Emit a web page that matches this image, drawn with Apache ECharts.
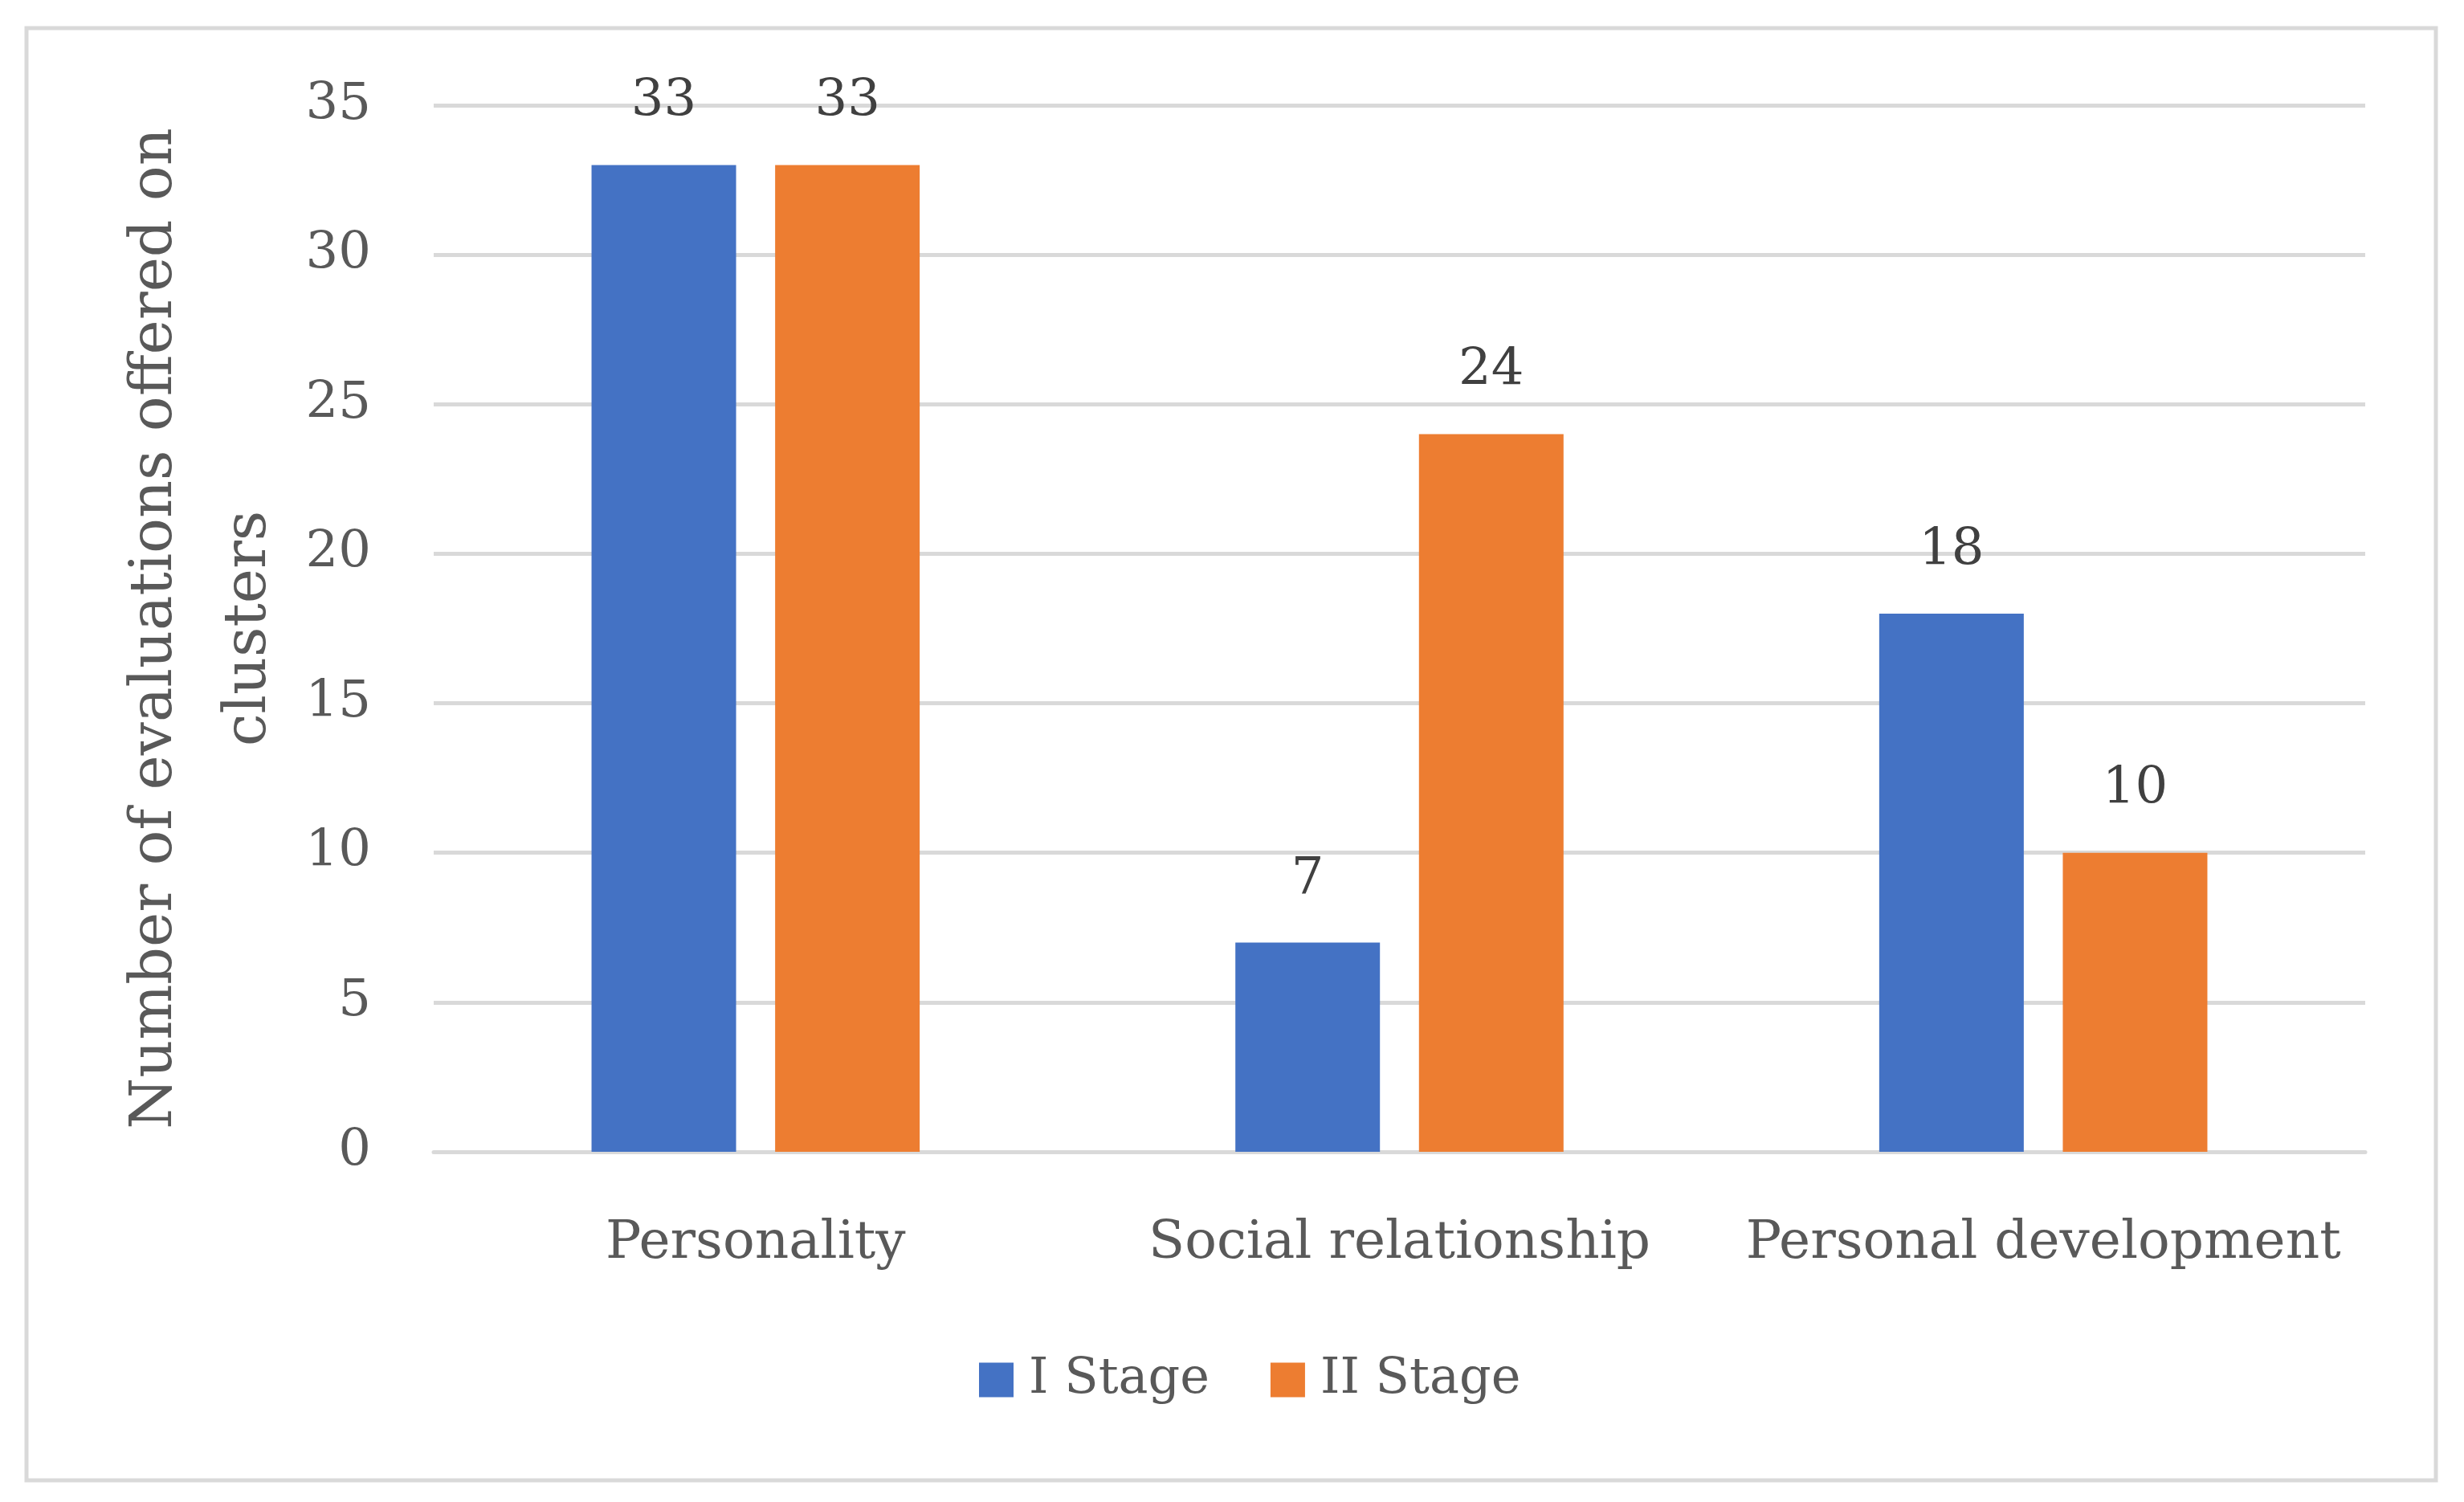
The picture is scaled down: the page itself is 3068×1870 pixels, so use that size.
<!DOCTYPE html>
<html>
<head>
<meta charset="utf-8">
<script src="https://cdn.jsdelivr.net/npm/echarts@6/dist/echarts.min.js"></script>
<style>
html,body{margin:0;padding:0;background:#fff;}
#c{width:3068px;height:1870px;}
</style>
</head>
<body>
<div id="c"></div>
<script>
const categories = ['Personality', 'Social relationship', 'Personal development'];
const stage1 = [33, 7, 18];
const stage2 = [33, 24, 10];
const seriesNames = ['I Stage', 'II Stage'];
const yTicks = [0, 5, 10, 15, 20, 25, 30, 35];

const FONT = 'DejaVu Serif';
const chart = echarts.init(document.getElementById('c'), null, {renderer: 'canvas'});
chart.setOption({
  backgroundColor: '#ffffff',
  animation: false,
  graphic: [{
    type: 'rect',
    shape: {x: 33, y: 35, width: 3000, height: 1808},
    style: {fill: 'none', stroke: '#d9d9d9', lineWidth: 5},
    silent: true
  }],
  color: ['#4472C4', '#ED7D31'],
  legend: {
    data: seriesNames,
    bottom: 116,
    left: 1214,
    itemWidth: 43,
    itemHeight: 43,
    itemGap: 76,
    icon: 'rect',
    textStyle: {fontFamily: FONT, fontSize: 62, color: '#595959', padding: [0, 0, 0, 14]}
  },
  grid: {left: 540, right: 123, top: 131, bottom: 436, containLabel: false},
  xAxis: {
    type: 'category',
    data: categories,
    axisLine: {show: true, lineStyle: {color: '#d9d9d9', width: 5}},
    axisTick: {show: false},
    axisLabel: {interval: 0, fontFamily: FONT, fontSize: 66, color: '#595959', margin: 82}
  },
  yAxis: {
    type: 'value',
    min: yTicks[0],
    max: yTicks[yTicks.length - 1],
    interval: 5,
    name: 'Number of evaluations offered on\nclusters',
    nameLocation: 'middle',
    nameGap: 165,
    nameTextStyle: {fontFamily: FONT, fontSize: 73, color: '#595959', lineHeight: 117},
    axisLine: {show: false},
    axisTick: {show: false},
    splitLine: {lineStyle: {color: '#d9d9d9', width: 5}},
    axisLabel: {fontFamily: FONT, fontSize: 64, color: '#595959', margin: 78}
  },
  series: [
    {
      name: seriesNames[0], type: 'bar', data: stage1, barWidth: 180, barGap: '27%',
      label: {show: true, position: 'top', distance: 46, fontFamily: FONT, fontSize: 64, color: '#404040'}
    },
    {
      name: seriesNames[1], type: 'bar', data: stage2, barWidth: 180, barGap: '27%',
      label: {show: true, position: 'top', distance: 46, fontFamily: FONT, fontSize: 64, color: '#404040'}
    }
  ]
});
</script>
</body>
</html>
